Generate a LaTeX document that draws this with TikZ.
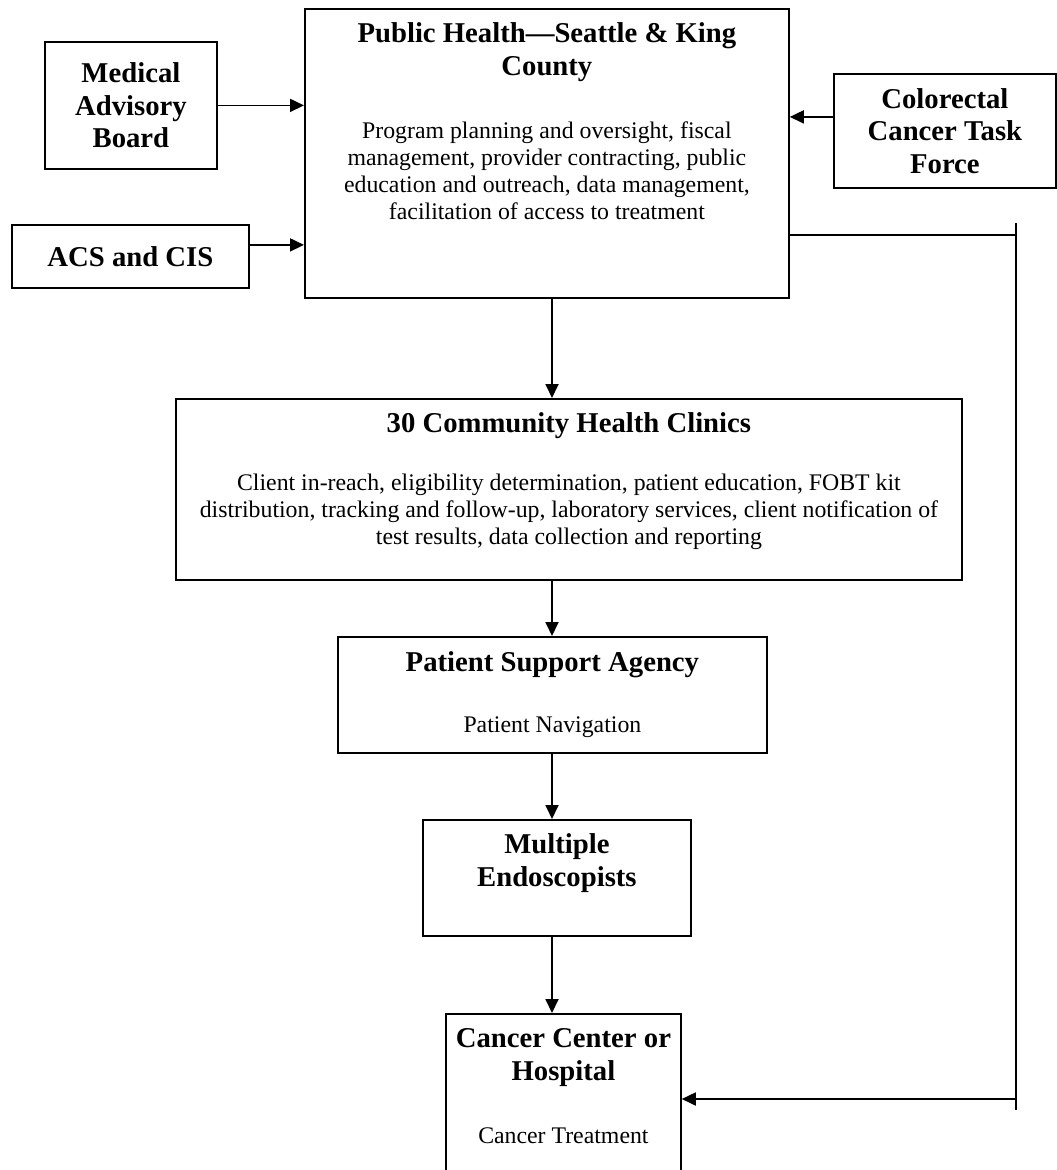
\documentclass[tikz,border=0pt]{standalone}
\usepackage{fontspec}
\setmainfont{Liberation Serif}
\usetikzlibrary{arrows.meta,positioning}

\tikzset{
  box/.style={draw, line width=1.8pt, inner sep=0pt, align=center},
  tbox/.style={box, font=\fontsize{28.7}{32.5}\selectfont\bfseries},
  head/.style={font=\fontsize{28.7}{32.5}\selectfont\bfseries, align=center, inner sep=0pt, anchor=base},
  body/.style={font=\fontsize{23.8}{27}\selectfont, align=center, inner sep=0pt, anchor=base},
  conn/.style={line width=1.8pt},
  arr/.style={-{Triangle[length=14pt,width=13pt]}, conn},
}

\begin{document}
\begin{tikzpicture}[x=1pt,y=-1pt]
        \clip (0,0) rectangle (1057,1170);
        \useasboundingbox (0,0) rectangle (1057,1170);
        \node[box, anchor=north west, minimum width=484pt, minimum height=289pt] (ph) at (304,8) {};
        \node[head] (phhead) at ([yshift=-67pt]ph.north) {Public Health---Seattle \& King\\County};
        \node[body] (phbody) at ([yshift=-211pt]ph.north) {Program planning and oversight, fiscal\\management, provider contracting, public\\education and outreach, data management,\\facilitation of access to treatment};
        \node[tbox, anchor=north west, minimum width=172pt, minimum height=127pt] (mab) at (44,41) {Medical\\Advisory\\Board};
        \node[tbox, anchor=north west, minimum width=237pt, minimum height=63pt] (acs) at (11,224) {ACS and CIS};
        \node[tbox, anchor=north west, minimum width=222pt, minimum height=114pt] (crc) at (833,73) {Colorectal\\Cancer Task\\Force};
        \node[box, anchor=north west, minimum width=786pt, minimum height=181pt] (chc) at (175,398) {};
        \node[head] (chchead) at ([yshift=-34pt]chc.north) {30 Community Health Clinics};
        \node[body] (chcbody) at ([yshift=-146pt]chc.north) {Client in-reach, eligibility determination, patient education, FOBT kit\\distribution, tracking and follow-up, laboratory services, client notification of\\test results, data collection and reporting};
        \node[box, anchor=north west, minimum width=429pt, minimum height=116pt] (psa) at (337,636) {};
        \node[head] (psahead) at ([yshift=-35pt]psa.north) {Patient Support Agency};
        \node[body] (psabody) at ([yshift=-96pt]psa.north) {Patient Navigation};
        \node[box, anchor=north west, minimum width=268pt, minimum height=116pt] (endo) at (422,819) {};
        \node[head] (endohead) at ([yshift=-67pt]endo.north) {Multiple\\Endoscopists};
        \node[box, anchor=north west, minimum width=235pt, minimum height=200pt] (cc) at (445,1013) {};
        \node[head] (cchead) at ([yshift=-67pt]cc.north) {Cancer Center or\\Hospital};
        \node[body] (ccbody) at ([yshift=-130pt]cc.north) {Cancer Treatment};
        \coordinate (spine) at (552,0);
        \coordinate (railtop) at (1016,223);
        \coordinate (railbot) at (1016,1110);
        \coordinate (railhit) at (1016,1099);
        \draw[arr] (mab.east) -- (mab.east -| ph.west);
        \draw[arr] ([yshift=11.5pt]acs.east) -- ([yshift=11.5pt]acs.east -| ph.west);
        \draw[arr] ([yshift=14pt]crc.west) -- ([yshift=14pt]crc.west -| ph.east);
        \draw[arr] (ph.south -| spine) -- (chc.north -| spine);
        \draw[arr] (chc.south -| spine) -- (psa.north -| spine);
        \draw[arr] (psa.south -| spine) -- (endo.north -| spine);
        \draw[arr] (endo.south -| spine) -- (cc.north -| spine);
        \draw[conn] (railtop) -- (railbot);
        \draw[conn] ([yshift=-81.5pt]ph.east) -- ([yshift=-81.5pt]ph.east -| railtop);
        \draw[arr] (railhit) -- (railhit -| cc.east);
\end{tikzpicture}
\end{document}
